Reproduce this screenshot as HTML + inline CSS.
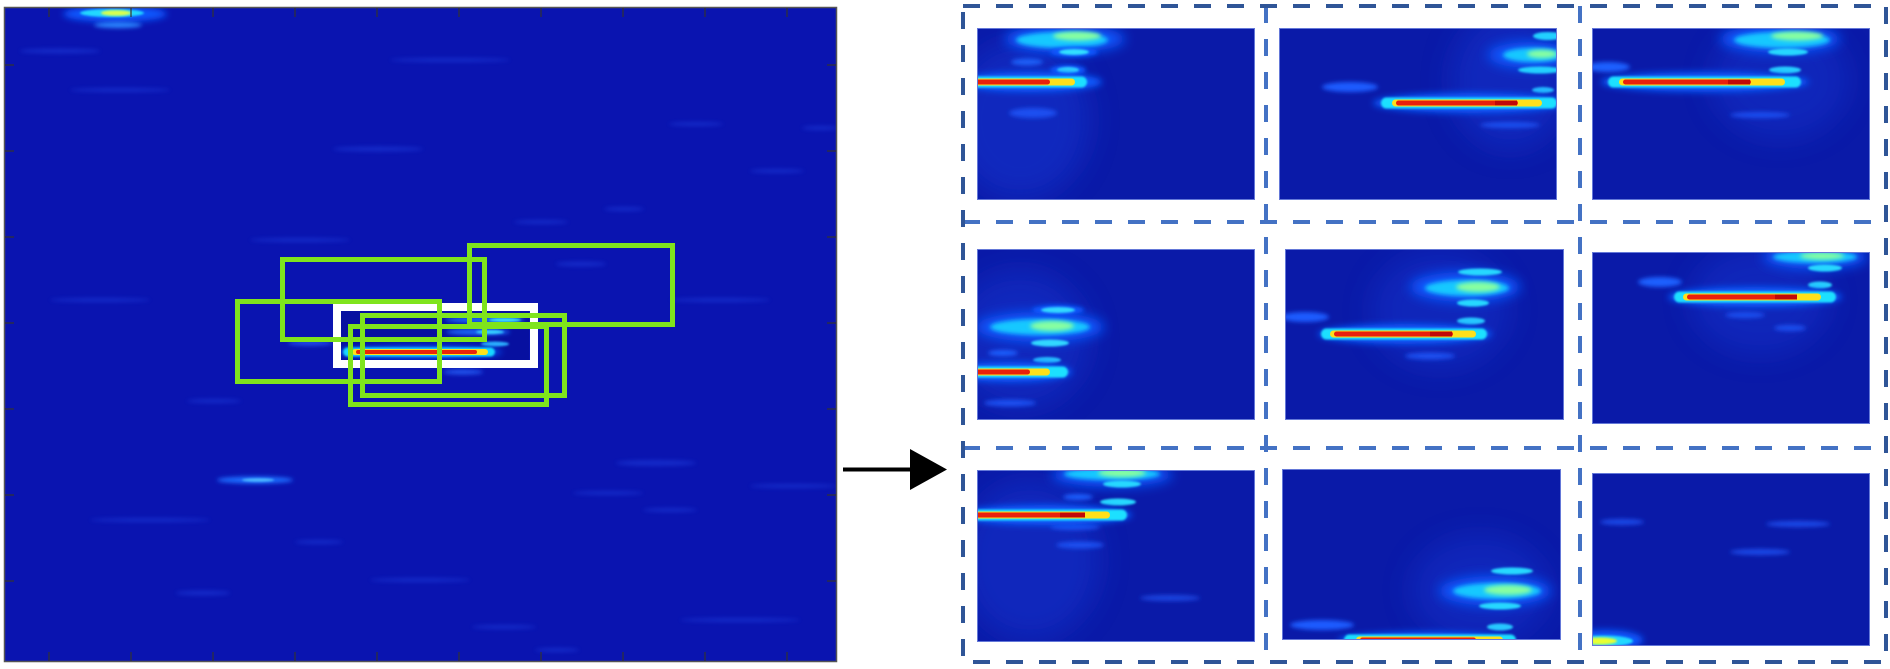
<!DOCTYPE html>
<html><head><meta charset="utf-8"><style>
html,body{margin:0;padding:0;background:#fff;width:1890px;height:669px;overflow:hidden}
svg{display:block}
</style></head><body>
<svg width="1890" height="669" viewBox="0 0 1890 669" xmlns="http://www.w3.org/2000/svg">
<defs>
<filter id="b1" filterUnits="userSpaceOnUse" x="0" y="0" width="1890" height="669"><feGaussianBlur stdDeviation="1"/></filter>
<filter id="b2" filterUnits="userSpaceOnUse" x="0" y="0" width="1890" height="669"><feGaussianBlur stdDeviation="2"/></filter>
<filter id="b3" filterUnits="userSpaceOnUse" x="0" y="0" width="1890" height="669"><feGaussianBlur stdDeviation="3.5"/></filter>
<filter id="b6" filterUnits="userSpaceOnUse" x="0" y="0" width="1890" height="669"><feGaussianBlur stdDeviation="6"/></filter>
<filter id="b12" filterUnits="userSpaceOnUse" x="0" y="0" width="1890" height="669"><feGaussianBlur stdDeviation="14"/></filter>
<clipPath id="cL"><rect x="4.5" y="7.5" width="832" height="654"/></clipPath>
<clipPath id="c1"><rect x="977" y="28" width="278" height="172"/></clipPath>
<clipPath id="c2"><rect x="1279" y="28" width="278" height="172"/></clipPath>
<clipPath id="c3"><rect x="1592" y="28" width="278" height="172"/></clipPath>
<clipPath id="c4"><rect x="977" y="249" width="278" height="171"/></clipPath>
<clipPath id="c5"><rect x="1285" y="249" width="279" height="171"/></clipPath>
<clipPath id="c6"><rect x="1592" y="252" width="278" height="172"/></clipPath>
<clipPath id="c7"><rect x="977" y="470" width="278" height="172"/></clipPath>
<clipPath id="c8"><rect x="1282" y="469" width="279" height="171"/></clipPath>
<clipPath id="c9"><rect x="1592" y="473" width="278" height="173"/></clipPath>
</defs>

<!-- ============ LEFT PANEL ============ -->
<rect x="4.5" y="7.5" width="832" height="654" fill="#0a14b0"/>
<g clip-path="url(#cL)">
  <g fill="#2346e6" opacity="0.45" filter="url(#b2)">
    <ellipse cx="60" cy="51" rx="40" ry="2.5"/>
    <ellipse cx="378" cy="149" rx="45" ry="2.5"/>
    <ellipse cx="696" cy="124" rx="27" ry="2"/>
    <ellipse cx="820" cy="128" rx="18" ry="2"/>
    <ellipse cx="777" cy="171" rx="27" ry="2"/>
    <ellipse cx="624" cy="209" rx="20" ry="2"/>
    <ellipse cx="541" cy="222" rx="27" ry="2"/>
    <ellipse cx="581" cy="264" rx="25" ry="2.5"/>
    <ellipse cx="214" cy="401" rx="27" ry="2"/>
    <ellipse cx="656" cy="463" rx="40" ry="3"/>
    <ellipse cx="793" cy="486" rx="43" ry="2"/>
    <ellipse cx="608" cy="493" rx="35" ry="2"/>
    <ellipse cx="670" cy="510" rx="27" ry="2"/>
    <ellipse cx="319" cy="542" rx="24" ry="2"/>
    <ellipse cx="203" cy="593" rx="27" ry="2.5"/>
    <ellipse cx="504" cy="627" rx="32" ry="2"/>
    <ellipse cx="557" cy="650" rx="22" ry="2"/>
    <ellipse cx="120" cy="90" rx="50" ry="2"/>
    <ellipse cx="450" cy="60" rx="60" ry="2"/>
    <ellipse cx="720" cy="300" rx="50" ry="2"/>
    <ellipse cx="100" cy="300" rx="50" ry="2"/>
    <ellipse cx="150" cy="520" rx="60" ry="2"/>
    <ellipse cx="420" cy="580" rx="50" ry="2"/>
    <ellipse cx="740" cy="620" rx="60" ry="2"/>
    <ellipse cx="300" cy="240" rx="50" ry="2"/>
  </g>
  <!-- top hot spot -->
  <ellipse cx="115" cy="14" rx="52" ry="8" fill="#0a58ff" filter="url(#b3)"/>
  <ellipse cx="112" cy="13" rx="32" ry="4" fill="#22d8ff" filter="url(#b1)"/>
  <ellipse cx="116" cy="13" rx="15" ry="2.8" fill="#d8ff50" filter="url(#b1)"/>
  <ellipse cx="118" cy="25" rx="24" ry="3" fill="#2c86ff" filter="url(#b2)"/>
  <!-- streak at 480 -->
  <ellipse cx="255" cy="480" rx="38" ry="3.5" fill="#1e6cff" filter="url(#b2)"/>
  <ellipse cx="258" cy="480" rx="16" ry="1.8" fill="#4cb8ff" filter="url(#b1)"/>
  <!-- near white box -->
  <ellipse cx="310" cy="343" rx="22" ry="2.5" fill="#2050f0" filter="url(#b2)"/>
  <ellipse cx="463" cy="372" rx="20" ry="2.5" fill="#2458f2" filter="url(#b2)"/>
  <rect x="341" y="311" width="188" height="49" fill="#0710a0"/>
  <ellipse cx="485" cy="320" rx="40" ry="3" fill="#1a6cff" filter="url(#b2)"/>
  <ellipse cx="505" cy="320" rx="16" ry="2" fill="#3ae0ff" filter="url(#b1)"/>
  <ellipse cx="478" cy="332" rx="32" ry="3" fill="#1a6cff" filter="url(#b2)"/>
  <ellipse cx="490" cy="332" rx="14" ry="2" fill="#34d0ff" filter="url(#b1)"/>
  <ellipse cx="495" cy="344" rx="14" ry="2.5" fill="#2cb0ff" filter="url(#b1)"/>
  <!-- hot line -->
  <ellipse cx="420" cy="352" rx="82" ry="6" fill="#0a5cff" filter="url(#b3)"/>
  <rect x="343" y="347.5" width="152" height="9" rx="4.5" fill="#18d8ff" filter="url(#b1)"/>
  <rect x="352" y="349" width="136" height="6" rx="3" fill="#ffe21a"/>
  <rect x="356" y="350" width="121" height="4" rx="2" fill="#ea240a"/>
  <!-- white box -->
  <rect x="337" y="307" width="197" height="57" fill="none" stroke="#ffffff" stroke-width="8"/>
  <!-- green boxes -->
  <g fill="none" stroke="#7fe41c" stroke-width="5">
    <rect x="282.5" y="259.5" width="202" height="80"/>
    <rect x="469.5" y="245.5" width="203" height="79"/>
    <rect x="237.5" y="301.5" width="202" height="80"/>
    <rect x="362.5" y="315.5" width="202" height="80"/>
    <rect x="350.5" y="326.5" width="196" height="78"/>
  </g>
</g>
<rect x="4.5" y="7.5" width="832" height="654" fill="none" stroke="#555" stroke-width="1.5"/>
<g stroke="#333" stroke-width="1.2">
  <path d="M49 8v9M131 8v9M213 8v9M295 8v9M377 8v9M459 8v9M541 8v9M623 8v9M705 8v9M787 8v9"/>
  <path d="M49 661v-9M131 661v-9M213 661v-9M295 661v-9M377 661v-9M459 661v-9M541 661v-9M623 661v-9M705 661v-9M787 661v-9"/>
  <path d="M5 65h9M5 151h9M5 237h9M5 323h9M5 409h9M5 495h9M5 581h9"/>
  <path d="M836 65h-9M836 151h-9M836 237h-9M836 323h-9M836 409h-9M836 495h-9M836 581h-9"/>
</g>

<!-- ============ ARROW ============ -->
<line x1="843" y1="469.5" x2="914" y2="469.5" stroke="#000" stroke-width="4"/>
<polygon points="910,449 947,469.5 910,490" fill="#000"/>

<!-- ============ TILES ============ -->
<g fill="#0a1aa8">
  <rect x="977" y="28" width="278" height="172"/>
  <rect x="1279" y="28" width="278" height="172"/>
  <rect x="1592" y="28" width="278" height="172"/>
  <rect x="977" y="249" width="278" height="171"/>
  <rect x="1285" y="249" width="279" height="171"/>
  <rect x="1592" y="252" width="278" height="172"/>
  <rect x="977" y="470" width="278" height="172"/>
  <rect x="1282" y="469" width="279" height="171"/>
  <rect x="1592" y="473" width="278" height="173"/>
</g>

<!-- tile 1 -->
<g clip-path="url(#c1)">
  <ellipse cx="1020" cy="120" rx="70" ry="80" fill="#1636d0" opacity="0.55" filter="url(#b12)"/>
  <ellipse cx="1033" cy="113" rx="24" ry="5" fill="#1e50f0" filter="url(#b2)"/>
  <ellipse cx="1027" cy="62" rx="16" ry="3.5" fill="#1e60f8" filter="url(#b2)"/>
  <ellipse cx="1065" cy="39" rx="60" ry="14" fill="#0a58ff" filter="url(#b6)"/>
  <ellipse cx="1062" cy="40" rx="46" ry="8" fill="#18c8ff" filter="url(#b2)"/>
  <ellipse cx="1077" cy="36" rx="24" ry="4.5" fill="#88ffa0" filter="url(#b2)"/>
  <ellipse cx="1074" cy="52" rx="24" ry="5" fill="#0a58ff" filter="url(#b2)"/>
  <ellipse cx="1074" cy="52" rx="15" ry="3" fill="#30e0ff" filter="url(#b1)"/>
  <ellipse cx="1068" cy="70" rx="18" ry="5" fill="#0a58ff" filter="url(#b2)"/>
  <ellipse cx="1068" cy="70" rx="11" ry="3" fill="#30d8ff" filter="url(#b1)"/>
  <ellipse cx="1030" cy="82" rx="72" ry="10" fill="#0a5cff" filter="url(#b3)"/>
  <rect x="960" y="76.5" width="127" height="11" rx="5.5" fill="#1ee0ff" filter="url(#b1)"/>
  <rect x="960" y="78.5" width="115" height="7" rx="3.5" fill="#ffe01a"/>
  <rect x="960" y="79.5" width="90" height="5" rx="2.5" fill="#e8200c"/>
</g>

<!-- tile 2 -->
<g clip-path="url(#c2)">
  <ellipse cx="1510" cy="80" rx="60" ry="70" fill="#1636d0" opacity="0.5" filter="url(#b12)"/>
  <ellipse cx="1350" cy="87" rx="28" ry="5" fill="#1c5cff" filter="url(#b2)"/>
  <ellipse cx="1530" cy="55" rx="42" ry="13" fill="#0a58ff" filter="url(#b6)"/>
  <ellipse cx="1533" cy="55" rx="30" ry="7" fill="#18c8ff" filter="url(#b2)"/>
  <ellipse cx="1542" cy="54" rx="15" ry="4" fill="#88ffa0" filter="url(#b2)"/>
  <ellipse cx="1548" cy="36" rx="15" ry="4" fill="#22d0ff" filter="url(#b1)"/>
  <ellipse cx="1540" cy="70" rx="22" ry="3.5" fill="#22d0ff" filter="url(#b1)"/>
  <ellipse cx="1543" cy="90" rx="11" ry="3" fill="#22b8ff" filter="url(#b1)"/>
  <ellipse cx="1510" cy="125" rx="30" ry="3" fill="#1a50f0" filter="url(#b2)"/>
  <ellipse cx="1470" cy="103" rx="97" ry="10" fill="#0a5cff" filter="url(#b3)"/>
  <rect x="1381" y="97.5" width="176" height="11" rx="5.5" fill="#1ee0ff" filter="url(#b1)"/>
  <rect x="1392" y="99.5" width="150" height="7" rx="3.5" fill="#ffe01a"/>
  <rect x="1396" y="100.5" width="122" height="5" rx="2.5" fill="#e8200c"/>
  <rect x="1495" y="100.5" width="22" height="5" fill="#c00808"/>
</g>

<!-- tile 3 -->
<g clip-path="url(#c3)">
  <ellipse cx="1780" cy="80" rx="70" ry="60" fill="#1636d0" opacity="0.45" filter="url(#b12)"/>
  <ellipse cx="1608" cy="67" rx="22" ry="5" fill="#1e60ff" filter="url(#b2)"/>
  <ellipse cx="1780" cy="39" rx="60" ry="14" fill="#0a58ff" filter="url(#b6)"/>
  <ellipse cx="1782" cy="40" rx="48" ry="8" fill="#18c8ff" filter="url(#b2)"/>
  <ellipse cx="1797" cy="36" rx="26" ry="4.5" fill="#88ffa0" filter="url(#b2)"/>
  <ellipse cx="1788" cy="52" rx="20" ry="3.5" fill="#28d8ff" filter="url(#b1)"/>
  <ellipse cx="1785" cy="70" rx="16" ry="3.5" fill="#28d0ff" filter="url(#b1)"/>
  <ellipse cx="1760" cy="115" rx="30" ry="3" fill="#1a4ef0" filter="url(#b2)"/>
  <ellipse cx="1705" cy="82" rx="104" ry="10" fill="#0a5cff" filter="url(#b3)"/>
  <rect x="1608" y="76.5" width="193" height="11" rx="5.5" fill="#1ee0ff" filter="url(#b1)"/>
  <rect x="1619" y="78.5" width="166" height="7" rx="3.5" fill="#ffe01a"/>
  <rect x="1623" y="79.5" width="128" height="5" rx="2.5" fill="#e8200c"/>
  <rect x="1728" y="79.5" width="22" height="5" fill="#c00808"/>
</g>

<!-- tile 4 -->
<g clip-path="url(#c4)">
  <ellipse cx="1020" cy="340" rx="70" ry="70" fill="#1636d0" opacity="0.5" filter="url(#b12)"/>
  <ellipse cx="1040" cy="327" rx="64" ry="15" fill="#0a58ff" filter="url(#b6)"/>
  <ellipse cx="1040" cy="327" rx="50" ry="8" fill="#18c8ff" filter="url(#b2)"/>
  <ellipse cx="1052" cy="326" rx="22" ry="5" fill="#88ffa0" filter="url(#b2)"/>
  <ellipse cx="1058" cy="310" rx="26" ry="5" fill="#0a58ff" filter="url(#b2)"/>
  <ellipse cx="1058" cy="310" rx="17" ry="3" fill="#30d8ff" filter="url(#b1)"/>
  <ellipse cx="1050" cy="343" rx="19" ry="3.5" fill="#30d8ff" filter="url(#b1)"/>
  <ellipse cx="1047" cy="360" rx="14" ry="3" fill="#28c0ff" filter="url(#b1)"/>
  <ellipse cx="1003" cy="353" rx="15" ry="3" fill="#1e60ff" filter="url(#b2)"/>
  <ellipse cx="1010" cy="403" rx="26" ry="3.5" fill="#1a50f0" filter="url(#b2)"/>
  <ellipse cx="1010" cy="372" rx="62" ry="10" fill="#0a5cff" filter="url(#b3)"/>
  <rect x="960" y="366.5" width="108" height="11" rx="5.5" fill="#1ee0ff" filter="url(#b1)"/>
  <rect x="960" y="368.5" width="90" height="7" rx="3.5" fill="#ffe01a"/>
  <rect x="960" y="369.5" width="70" height="5" rx="2.5" fill="#e8200c"/>
</g>

<!-- tile 5 -->
<g clip-path="url(#c5)">
  <ellipse cx="1440" cy="310" rx="70" ry="60" fill="#1636d0" opacity="0.45" filter="url(#b12)"/>
  <ellipse cx="1305" cy="317" rx="24" ry="5" fill="#1e5cff" filter="url(#b2)"/>
  <ellipse cx="1465" cy="287" rx="55" ry="15" fill="#0a58ff" filter="url(#b6)"/>
  <ellipse cx="1467" cy="288" rx="42" ry="8" fill="#18c8ff" filter="url(#b2)"/>
  <ellipse cx="1478" cy="287" rx="22" ry="5" fill="#88ffa0" filter="url(#b2)"/>
  <ellipse cx="1480" cy="272" rx="22" ry="3.5" fill="#28d8ff" filter="url(#b1)"/>
  <ellipse cx="1473" cy="303" rx="16" ry="3.5" fill="#28d8ff" filter="url(#b1)"/>
  <ellipse cx="1471" cy="321" rx="14" ry="3.5" fill="#28c8ff" filter="url(#b1)"/>
  <ellipse cx="1430" cy="356" rx="25" ry="3.5" fill="#1a50f0" filter="url(#b2)"/>
  <ellipse cx="1405" cy="334" rx="87" ry="10" fill="#0a5cff" filter="url(#b3)"/>
  <rect x="1321" y="328.5" width="166" height="11" rx="5.5" fill="#1ee0ff" filter="url(#b1)"/>
  <rect x="1330" y="330.5" width="146" height="7" rx="3.5" fill="#ffe01a"/>
  <rect x="1334" y="331.5" width="119" height="5" rx="2.5" fill="#e8200c"/>
  <rect x="1430" y="331.5" width="22" height="5" fill="#c00808"/>
</g>

<!-- tile 6 -->
<g clip-path="url(#c6)">
  <ellipse cx="1760" cy="300" rx="70" ry="55" fill="#1636d0" opacity="0.45" filter="url(#b12)"/>
  <ellipse cx="1660" cy="282" rx="22" ry="5" fill="#1e60ff" filter="url(#b2)"/>
  <ellipse cx="1815" cy="257" rx="52" ry="12" fill="#0a58ff" filter="url(#b6)"/>
  <ellipse cx="1815" cy="257" rx="42" ry="6" fill="#18c8ff" filter="url(#b2)"/>
  <ellipse cx="1822" cy="256" rx="22" ry="3.5" fill="#88ffa0" filter="url(#b2)"/>
  <ellipse cx="1825" cy="268" rx="17" ry="3.5" fill="#28d8ff" filter="url(#b1)"/>
  <ellipse cx="1820" cy="285" rx="12" ry="3.5" fill="#28d0ff" filter="url(#b1)"/>
  <ellipse cx="1745" cy="315" rx="20" ry="3" fill="#1a50f0" filter="url(#b2)"/>
  <ellipse cx="1790" cy="328" rx="16" ry="3" fill="#1a50f0" filter="url(#b2)"/>
  <ellipse cx="1755" cy="297" rx="87" ry="10" fill="#0a5cff" filter="url(#b3)"/>
  <rect x="1674" y="291.5" width="162" height="11" rx="5.5" fill="#1ee0ff" filter="url(#b1)"/>
  <rect x="1683" y="293.5" width="138" height="7" rx="3.5" fill="#ffe01a"/>
  <rect x="1687" y="294.5" width="110" height="5" rx="2.5" fill="#e8200c"/>
  <rect x="1775" y="294.5" width="22" height="5" fill="#c00808"/>
</g>

<!-- tile 7 -->
<g clip-path="url(#c7)">
  <ellipse cx="1030" cy="560" rx="70" ry="80" fill="#1636d0" opacity="0.5" filter="url(#b12)"/>
  <ellipse cx="1112" cy="475" rx="60" ry="12" fill="#0a58ff" filter="url(#b6)"/>
  <ellipse cx="1112" cy="474" rx="48" ry="6" fill="#18c8ff" filter="url(#b2)"/>
  <ellipse cx="1122" cy="473" rx="24" ry="4" fill="#88ffa0" filter="url(#b2)"/>
  <ellipse cx="1122" cy="484" rx="19" ry="3.5" fill="#28d8ff" filter="url(#b1)"/>
  <ellipse cx="1118" cy="502" rx="18" ry="3.5" fill="#28d8ff" filter="url(#b1)"/>
  <ellipse cx="1078" cy="497" rx="15" ry="3" fill="#1e60ff" filter="url(#b2)"/>
  <ellipse cx="1080" cy="545" rx="24" ry="3.5" fill="#1a50f0" filter="url(#b2)"/>
  <ellipse cx="1075" cy="527" rx="25" ry="3" fill="#1a50f0" filter="url(#b2)"/>
  <ellipse cx="1170" cy="598" rx="30" ry="3" fill="#1a44e0" filter="url(#b2)"/>
  <ellipse cx="1045" cy="515" rx="87" ry="10" fill="#0a5cff" filter="url(#b3)"/>
  <rect x="960" y="509.5" width="167" height="11" rx="5.5" fill="#1ee0ff" filter="url(#b1)"/>
  <rect x="960" y="511.5" width="150" height="7" rx="3.5" fill="#ffe01a"/>
  <rect x="960" y="512.5" width="125" height="5" rx="2.5" fill="#e8200c"/>
  <rect x="1060" y="512.5" width="25" height="5" fill="#c00808"/>
</g>

<!-- tile 8 -->
<g clip-path="url(#c8)">
  <ellipse cx="1480" cy="590" rx="70" ry="55" fill="#1636d0" opacity="0.45" filter="url(#b12)"/>
  <ellipse cx="1322" cy="625" rx="32" ry="5" fill="#1e5cff" filter="url(#b2)"/>
  <ellipse cx="1495" cy="591" rx="56" ry="15" fill="#0a58ff" filter="url(#b6)"/>
  <ellipse cx="1497" cy="591" rx="44" ry="8" fill="#18c8ff" filter="url(#b2)"/>
  <ellipse cx="1508" cy="590" rx="24" ry="5" fill="#88ffa0" filter="url(#b2)"/>
  <ellipse cx="1512" cy="571" rx="21" ry="3.5" fill="#28d8ff" filter="url(#b1)"/>
  <ellipse cx="1500" cy="606" rx="21" ry="3.5" fill="#28d8ff" filter="url(#b1)"/>
  <ellipse cx="1500" cy="627" rx="13" ry="3.5" fill="#28c8ff" filter="url(#b1)"/>
  <ellipse cx="1425" cy="640" rx="87" ry="8" fill="#0a5cff" filter="url(#b3)"/>
  <rect x="1344" y="634.5" width="172" height="11" rx="5.5" fill="#1ee0ff" filter="url(#b1)"/>
  <rect x="1356" y="636.5" width="147" height="7" rx="3.5" fill="#ffe01a"/>
  <rect x="1360" y="637.5" width="116" height="5" rx="2.5" fill="#e8200c"/>
</g>

<!-- tile 9 -->
<g clip-path="url(#c9)">
  <ellipse cx="1622" cy="522" rx="22" ry="3" fill="#1a48e8" filter="url(#b2)"/>
  <ellipse cx="1760" cy="552" rx="30" ry="3" fill="#1a48e8" filter="url(#b2)"/>
  <ellipse cx="1798" cy="524" rx="32" ry="3" fill="#1a48e8" filter="url(#b2)"/>
  <ellipse cx="1605" cy="640" rx="38" ry="10" fill="#0a58ff" filter="url(#b3)"/>
  <ellipse cx="1603" cy="641" rx="30" ry="5.5" fill="#22d8ff" filter="url(#b1)"/>
  <ellipse cx="1600" cy="641" rx="17" ry="3.5" fill="#e8ff30" filter="url(#b1)"/>
</g>

<!-- tile borders -->
<g fill="none" stroke="#6478d8" stroke-width="1">
  <rect x="977.5" y="28.5" width="277" height="171"/>
  <rect x="1279.5" y="28.5" width="277" height="171"/>
  <rect x="1592.5" y="28.5" width="277" height="171"/>
  <rect x="977.5" y="249.5" width="277" height="170"/>
  <rect x="1285.5" y="249.5" width="278" height="170"/>
  <rect x="1592.5" y="252.5" width="277" height="171"/>
  <rect x="977.5" y="470.5" width="277" height="171"/>
  <rect x="1282.5" y="469.5" width="278" height="170"/>
  <rect x="1592.5" y="473.5" width="277" height="172"/>
</g>

<!-- ============ DASHED GRID ============ -->
<g fill="none" stroke="#4472c4" stroke-width="4" stroke-dasharray="17 16">
  <line x1="963" y1="222" x2="1886" y2="222"/>
  <line x1="963" y1="448" x2="1886" y2="448"/>
  <line x1="1266" y1="6" x2="1266" y2="662"/>
  <line x1="1580" y1="6" x2="1580" y2="662"/>
</g>
<rect x="963" y="6" width="923" height="656" fill="none" stroke="#2f5597" stroke-width="4" stroke-dasharray="17 16"/>
</svg>
</body></html>
